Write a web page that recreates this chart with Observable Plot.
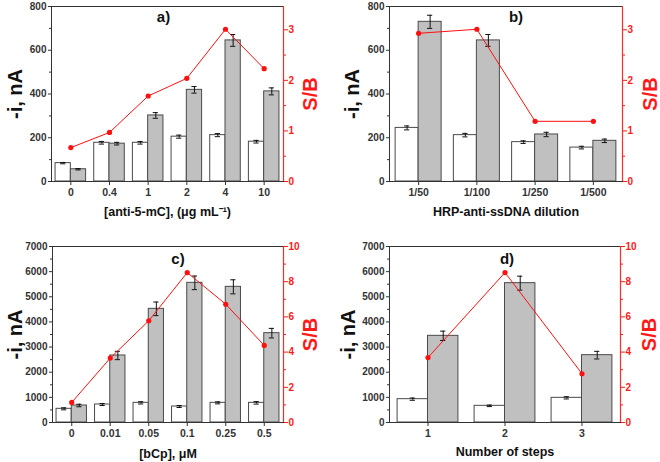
<!DOCTYPE html>
<html><head><meta charset="utf-8">
<script src="https://cdn.jsdelivr.net/npm/d3@7"></script>
<script src="https://cdn.jsdelivr.net/npm/@observablehq/plot@0.6"></script>
<style>
body{margin:0;background:#fff;}
#root{position:relative;width:660px;height:462px;overflow:hidden;}
.panel{position:absolute;width:330px;height:231px;}
.panel svg{position:absolute;left:0;top:0;}
</style></head><body><div id="root"></div>
<script>
// Panel a
const catsA = ["0","0.4","1","2","4","10"];
const blankA = [84,177,177,205,212,182];
const blankErrA = [3,6,6,7,7,6];
const signalA = [56,173,302,419,645,412];
const signalErrA = [3,6,13,15,27,16];
const sbA = [0.67,0.97,1.69,2.04,3.01,2.23];
// Panel b
const catsB = ["1/50","1/100","1/250","1/500"];
const blankB = [245,212,180,155];
const blankErrB = [9,8,6,6];
const signalB = [730,645,215,186];
const signalErrB = [30,27,10,8];
const sbB = [2.93,3.01,1.19,1.19];
// Panel c
const catsC = ["0","0.01","0.05","0.1","0.25","0.5"];
const blankC = [544,716,782,636,782,782];
const blankErrC = [40,40,45,40,40,50];
const signalC = [676,2665,4521,5555,5396,3553];
const signalErrC = [50,166,270,270,280,190];
const sbC = [1.14,3.66,5.78,8.52,6.72,4.38];
// Panel d
const catsD = ["1","2","3"];
const blankD = [928,663,981];
const blankErrD = [45,30,45];
const signalD = [3447,5542,2678];
const signalErrD = [186,278,152];
const sbD = [3.69,8.52,2.77];

const FONT = '"Liberation Sans", Arial, sans-serif';

function panel(cfg) {
  const {left, top, cats, blank, blankErr, signal, signalErr, sb, yMax, yStep, yMinor,
         sbMax, sbStep, sbMinor, ml, mr, mt, mb, tag, tagDx, tagDy, xTitle, yLabDx, sbLabDx, xTitleDy} = cfg;
  const n = cats.length;
  const W = 330, H = 231;
  const plotW = W - ml - mr;
  const half = 0.395;
  const capHalf = 2.6 / (plotW / n);
  const rows = [];
  cats.forEach((c, i) => {
    rows.push({i, s: "blank", v: blank[i], e: blankErr[i]});
    rows.push({i, s: "signal", v: signal[i], e: signalErr[i]});
  });
  const cx = d => d.s === "blank" ? d.i - half / 2 : d.i + half / 2;
  const div = document.createElement("div");
  div.className = "panel";
  div.style.left = left + "px";
  div.style.top = top + "px";

  const majorY = d3.range(0, yMax + 1e-9, yStep);
  const minorY = d3.range(yMinor, yMax, yStep);
  const p1 = Plot.plot({
    width: W, height: H, marginLeft: ml, marginRight: mr, marginTop: mt, marginBottom: mb,
    style: {fontFamily: FONT, background: "white", overflow: "visible"},
    x: {domain: [-0.5, n - 0.5], axis: null},
    y: {domain: [0, yMax], axis: null},
    marks: [
      Plot.rectY(rows, {
        x1: d => d.s === "blank" ? d.i - half : d.i,
        x2: d => d.s === "blank" ? d.i : d.i + half,
        y1: 0, y2: "v",
        fill: d => d.s === "blank" ? "#ffffff" : "#c0c0c0",
        stroke: "#4a4a4a", strokeWidth: 1
      }),
      Plot.ruleX(rows, {x: cx, y1: d => d.v - d.e, y2: d => d.v + d.e, stroke: "#111", strokeWidth: 1}),
      Plot.ruleY(rows, {y: d => d.v + d.e, x1: d => cx(d) - capHalf, x2: d => cx(d) + capHalf, stroke: "#111", strokeWidth: 1}),
      Plot.ruleY(rows, {y: d => d.v - d.e, x1: d => cx(d) - capHalf, x2: d => cx(d) + capHalf, stroke: "#111", strokeWidth: 1}),
      Plot.frame({stroke: "#333", strokeWidth: 1}),
      Plot.axisY({ticks: majorY, tickSize: 3, tickPadding: 2, fontSize: 10, fontWeight: "bold", color: "#333", label: null, tickFormat: d => String(d)}),
      Plot.axisY({ticks: minorY, tickSize: 2, tickFormat: () => "", label: null, color: "#333"}),
      Plot.axisX({ticks: d3.range(n), tickFormat: i => cats[i], tickSize: 4, tickPadding: 3, fontSize: 10.5, fontWeight: "bold", color: "#333", label: null}),
      Plot.text(["-i, nA"], {frameAnchor: "left", rotate: -90, dx: yLabDx, fontSize: 20, fontWeight: "bold", fill: "#111", textAnchor: "middle", lineAnchor: "middle"}),
      Plot.text([xTitle], {frameAnchor: "bottom", dy: xTitleDy, fontSize: 12.5, fontWeight: "bold", fill: "#111", lineAnchor: "middle"}),
      Plot.text([tag], {frameAnchor: "top", dx: tagDx, dy: tagDy, fontSize: 15, fontWeight: "bold", fill: "#111", lineAnchor: "middle"})
    ]
  });

  const majorR = d3.range(0, sbMax + 1e-9, sbStep);
  const minorR = d3.range(sbMinor, sbMax, sbStep);
  const line = sb.map((v, i) => ({i, v}));
  const p2 = Plot.plot({
    width: W, height: H, marginLeft: ml, marginRight: mr, marginTop: mt, marginBottom: mb,
    style: {fontFamily: FONT, background: "transparent", overflow: "visible"},
    x: {domain: [-0.5, n - 0.5], axis: null},
    y: {domain: [0, sbMax], axis: null},
    marks: [
      Plot.ruleX([n - 0.5], {stroke: "#ff2a2a", strokeWidth: 1.2}),
      Plot.axisY({anchor: "right", ticks: majorR, tickSize: 4, tickPadding: 1, fontSize: 10, fontWeight: "bold", color: "#ff1a1a", label: null, tickFormat: d => String(d)}),
      Plot.axisY({anchor: "right", ticks: minorR, tickSize: 2, tickFormat: () => "", color: "#ff1a1a", label: null}),
      Plot.line(line, {x: "i", y: "v", stroke: "#ff1010", strokeWidth: 1}),
      Plot.dot(line, {x: "i", y: "v", r: 2.6, fill: "#ff1010", stroke: "none"}),
      Plot.text(["S/B"], {frameAnchor: "right", rotate: -90, dx: sbLabDx, fontSize: 20, fontWeight: "bold", fill: "#ff1a1a", textAnchor: "middle", lineAnchor: "middle"})
    ]
  });
  div.appendChild(p1);
  div.appendChild(p2);
  return div;
}

const root = document.getElementById("root");
root.appendChild(panel({left: 0, top: 0, cats: catsA, blank: blankA, blankErr: blankErrA, signal: signalA, signalErr: signalErrA, sb: sbA,
  yMax: 800, yStep: 200, yMinor: 100, sbMax: 3.46, sbStep: 1, sbMinor: 0.5,
  ml: 51, mr: 47, mt: 6, mb: 50, tag: "a)", tagDx: -4, tagDy: 11, xTitle: "[anti-5-mC], (μg mL⁻¹)", yLabDx: -36, sbLabDx: 27, xTitleDy: 30}));
root.appendChild(panel({left: 330, top: 0, cats: catsB, blank: blankB, blankErr: blankErrB, signal: signalB, signalErr: signalErrB, sb: sbB,
  yMax: 800, yStep: 200, yMinor: 100, sbMax: 3.46, sbStep: 1, sbMinor: 0.5,
  ml: 59, mr: 38, mt: 6, mb: 50, tag: "b)", tagDx: 10, tagDy: 11, xTitle: "HRP-anti-ssDNA dilution", yLabDx: -37, sbLabDx: 28, xTitleDy: 30}));
root.appendChild(panel({left: 0, top: 231, cats: catsC, blank: blankC, blankErr: blankErrC, signal: signalC, signalErr: signalErrC, sb: sbC,
  yMax: 7000, yStep: 1000, yMinor: 500, sbMax: 10, sbStep: 2, sbMinor: 1,
  ml: 52, mr: 47, mt: 15, mb: 40, tag: "c)", tagDx: 10, tagDy: 13, xTitle: "[bCp], μM", yLabDx: -37, sbLabDx: 27, xTitleDy: 31}));
root.appendChild(panel({left: 330, top: 231, cats: catsD, blank: blankD, blankErr: blankErrD, signal: signalD, signalErr: signalErrD, sb: sbD,
  yMax: 7000, yStep: 1000, yMinor: 500, sbMax: 10, sbStep: 2, sbMinor: 1,
  ml: 59, mr: 40, mt: 15, mb: 40, tag: "d)", tagDx: 2, tagDy: 13, xTitle: "Number of steps", yLabDx: -41, sbLabDx: 29, xTitleDy: 29}));
</script>
</body></html>
